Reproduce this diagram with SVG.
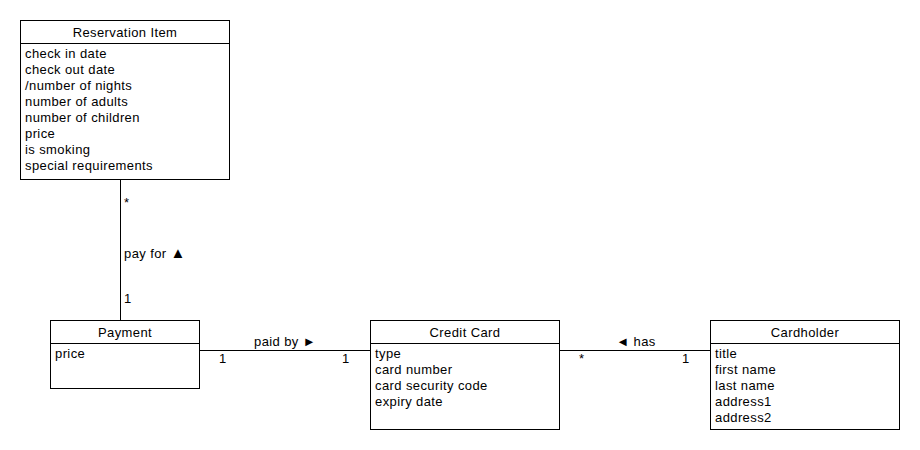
<svg xmlns="http://www.w3.org/2000/svg" width="920" height="450" viewBox="0 0 920 450">
<style>
text{font-family:"Liberation Sans",Arial,"DejaVu Sans",sans-serif;font-size:13px;letter-spacing:0.4px;fill:#000}
.t{text-anchor:middle}
.box{fill:#fff;stroke:#000;stroke-width:1}
.ln{stroke:#000;stroke-width:1;fill:none}
.sym{font-size:15px}
</style>
<rect width="920" height="450" fill="#fff"/>
<g id="connectors">
<line class="ln" x1="120.5" y1="180" x2="120.5" y2="320"/>
<line class="ln" x1="200" y1="350.5" x2="370" y2="350.5"/>
<line class="ln" x1="560" y1="350.5" x2="710" y2="350.5"/>
<text x="124" y="207">*</text>
<text x="124" y="258">pay for <tspan class="sym">▲</tspan></text>
<text x="124" y="303">1</text>
<text x="285" y="346" class="t">paid by ►</text>
<text x="219" y="363">1</text>
<text x="342" y="363">1</text>
<text x="636" y="346" class="t">◄ has</text>
<text x="579" y="363">*</text>
<text x="682" y="363">1</text>
</g>
<g id="reservation-item">
<rect class="box" x="20.5" y="20.5" width="209" height="159"/>
<line class="ln" x1="20.5" y1="43.5" x2="229.5" y2="43.5"/>
<text x="125" y="37" class="t">Reservation Item</text>
<text x="25" y="58">check in date</text>
<text x="25" y="74">check out date</text>
<text x="25" y="90">/number of nights</text>
<text x="25" y="106">number of adults</text>
<text x="25" y="122">number of children</text>
<text x="25" y="138">price</text>
<text x="25" y="154">is smoking</text>
<text x="25" y="170">special requirements</text>
</g>
<g id="payment">
<rect class="box" x="50.5" y="320.5" width="149" height="68"/>
<line class="ln" x1="50.5" y1="343.5" x2="199.5" y2="343.5"/>
<text x="125" y="337" class="t">Payment</text>
<text x="55" y="358">price</text>
</g>
<g id="credit-card">
<rect class="box" x="370.5" y="320.5" width="189" height="109"/>
<line class="ln" x1="370.5" y1="343.5" x2="559.5" y2="343.5"/>
<text x="465" y="337" class="t">Credit Card</text>
<text x="375" y="358">type</text>
<text x="375" y="374">card number</text>
<text x="375" y="390">card security code</text>
<text x="375" y="406">expiry date</text>
</g>
<g id="cardholder">
<rect class="box" x="710.5" y="320.5" width="189" height="109"/>
<line class="ln" x1="710.5" y1="343.5" x2="899.5" y2="343.5"/>
<text x="805" y="337" class="t">Cardholder</text>
<text x="715" y="358">title</text>
<text x="715" y="374">first name</text>
<text x="715" y="390">last name</text>
<text x="715" y="406">address1</text>
<text x="715" y="422">address2</text>
</g>
</svg>
